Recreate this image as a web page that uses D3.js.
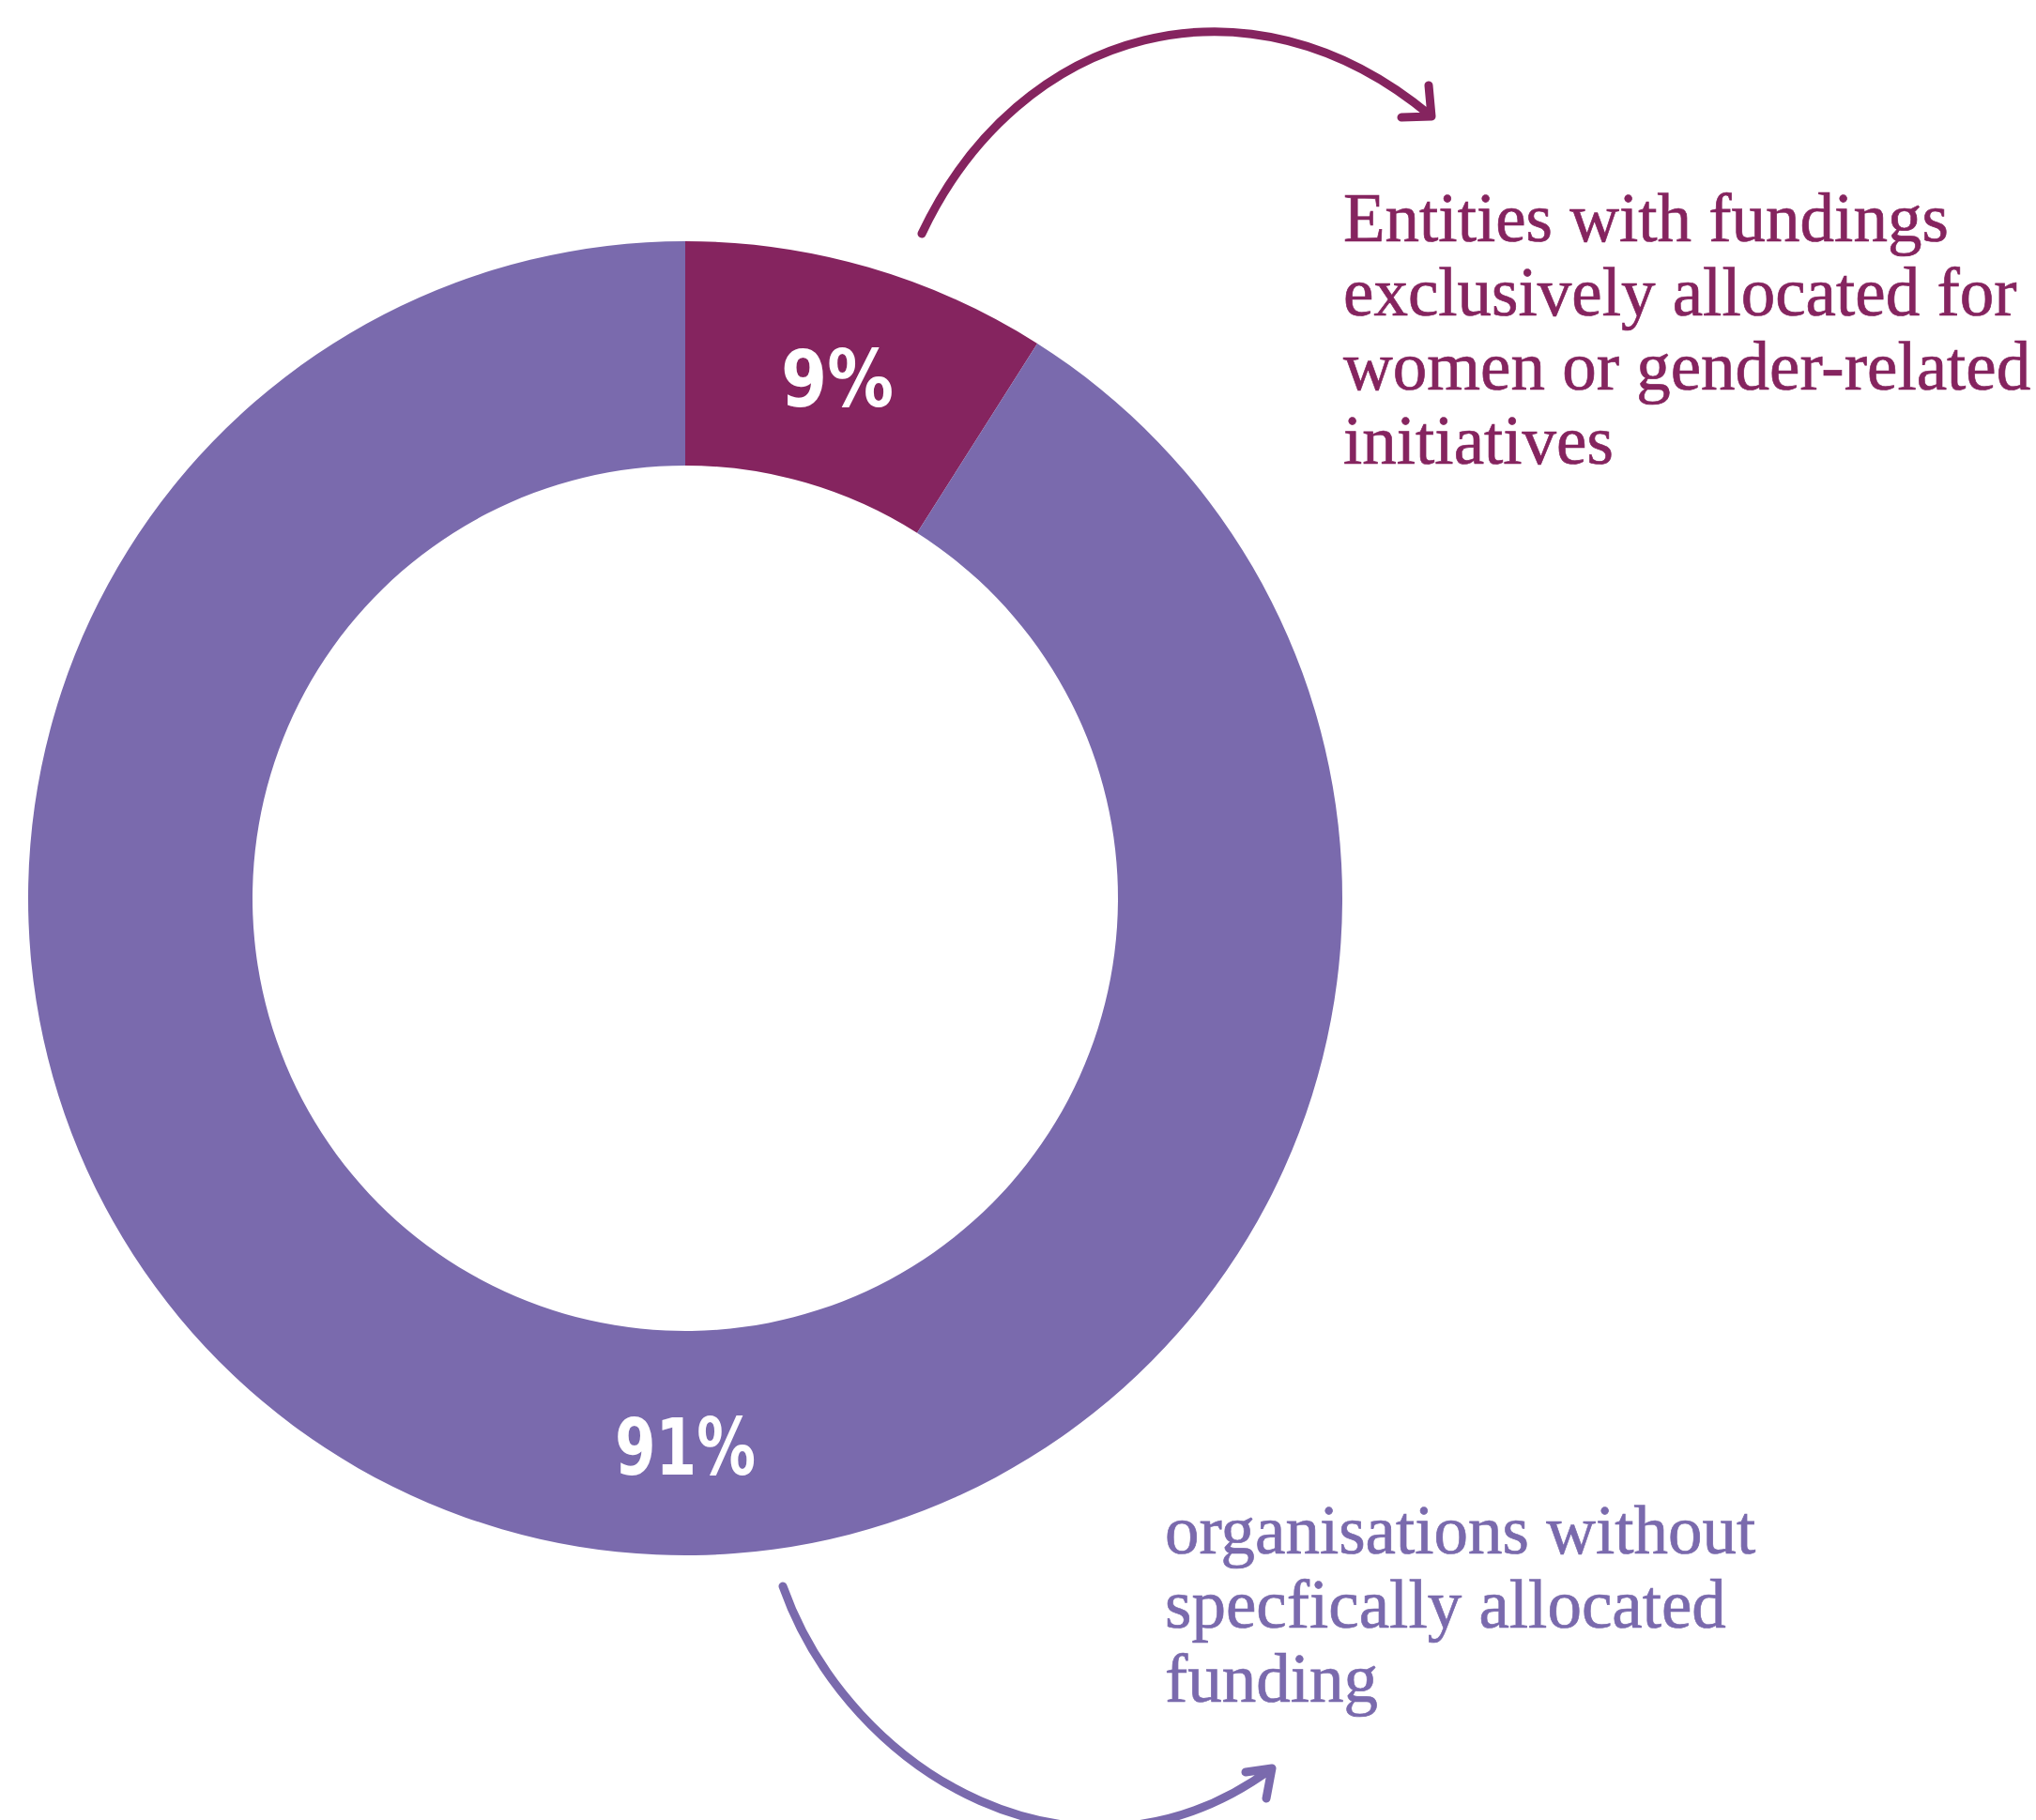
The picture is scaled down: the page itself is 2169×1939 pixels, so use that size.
<!DOCTYPE html>
<html>
<head>
<meta charset="utf-8">
<script src="https://cdn.jsdelivr.net/npm/d3@7"></script>
<style>
    body { margin: 0; background: #fff; }
    .chart--value { font-family: "DejaVu Sans", sans-serif; font-weight: bold; fill: #fff; }
    .chart--note { font-family: "Liberation Serif", serif; font-size: 73px; stroke-width: 0.7px; }
    .chart--arrow { fill: none; stroke-width: 9; stroke-linecap: round; stroke-linejoin: round; }
</style>
</head>
<body>
<div id="chart"></div>
<script>
// data
var categories = ['women or gender-related funding', 'no specifically allocated funding'];
var values = [9, 91];
var valueLabels = ['9%', '91%'];
var noteLines = [
    ['Entities with fundings', 'exclusively allocated for', 'women or gender-related', 'initiatives'],
    ['organisations without', 'specfically allocated', 'funding']
];
var colors = ['#85245f', '#7a6aad'];

var width = 2169, height = 1939;
var cx = 730, cy = 957;
var outerR = 700, innerR = 461;

var svg = d3.select('#chart').append('svg')
    .attr('width', width)
    .attr('height', height);

var g = svg.append('g')
    .attr('transform', 'translate(' + cx + ',' + cy + ')');

var pie = d3.pie().value(function (d) { return d; }).sort(null);
var arc = d3.arc().innerRadius(innerR).outerRadius(outerR);
var arcs = pie(values);

g.selectAll('path.slice').data(arcs)
    .enter()
    .append('path')
    .attr('class', 'slice')
    .attr('d', arc)
    .attr('fill', function (d, i) { return colors[i]; });

// value labels: small slice on its centroid, big slice at the bottom of the ring
var midR = (innerR + outerR) / 2;
g.selectAll('text.chart--value').data(arcs)
    .enter()
    .append('text')
    .attr('class', 'chart--value')
    .attr('text-anchor', 'middle')
    .attr('font-size', 58)
    .attr('textLength', function (d, i) { return i === 0 ? 120 : 150; })
    .attr('lengthAdjust', 'spacingAndGlyphs')
    .attr('transform', function (d, i) {
        var a = i === 0 ? (d.startAngle + d.endAngle) / 2 : Math.PI;
        var p = d3.pointRadial(a, midR);
        return 'translate(' + p[0] + ',' + (p[1] + 33) + ') scale(1,1.45)';
    })
    .text(function (d, i) { return valueLabels[i]; });

// notes
var notePos = [{ x: 1431, y: 257 }, { x: 1241, y: 1655 }];
var lineH = 79;
noteLines.forEach(function (lines, i) {
    var t = svg.append('text')
        .attr('class', 'chart--note')
        .attr('fill', colors[i])
        .attr('stroke', colors[i])
        .attr('x', notePos[i].x)
        .attr('y', notePos[i].y);
    lines.forEach(function (l, j) {
        t.append('tspan')
            .attr('x', notePos[i].x)
            .attr('dy', j === 0 ? 0 : lineH)
            .text(l);
    });
});

// arrows
function arrow(color, p0, c1, c2, p3, arm1, arm2) {
    var p = d3.path();
    p.moveTo(p0[0], p0[1]);
    p.bezierCurveTo(c1[0], c1[1], c2[0], c2[1], p3[0], p3[1]);
    p.moveTo(p3[0] + arm1[0], p3[1] + arm1[1]);
    p.lineTo(p3[0], p3[1]);
    p.lineTo(p3[0] + arm2[0], p3[1] + arm2[1]);
    svg.append('path')
        .attr('class', 'chart--arrow')
        .attr('stroke', color)
        .attr('d', p.toString());
}

arrow(colors[0], [982, 249], [1085, 30], [1330, -40], [1525, 124], [-32, 1], [-3, -33]);
arrow(colors[1], [834, 1690], [905, 1890], [1150, 2035], [1355, 1884], [-28, 4], [-6, 32]);
</script>
</body>
</html>
